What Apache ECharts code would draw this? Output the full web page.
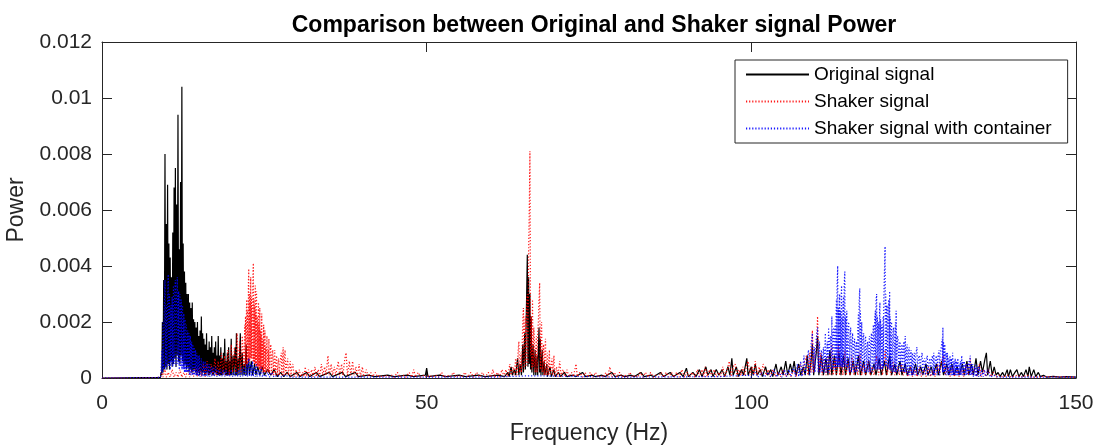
<!DOCTYPE html>
<html>
<head>
<meta charset="utf-8">
<script src="https://cdn.jsdelivr.net/npm/echarts@6/dist/echarts.min.js"></script>
<style>
  html, body { margin: 0; padding: 0; background: #fff; }
  #chart { width: 1100px; height: 447px; }
</style>
</head>
<body>
<div id="chart"></div>
<script>
// ---------------- data ----------------
const chartTitle = 'Comparison between Original and Shaker signal Power';
const xAxisTitle = 'Frequency (Hz)';
const yAxisTitle = 'Power';
const seriesNames = ['Original signal', 'Shaker signal', 'Shaker signal with container'];
const xTicks = [0, 50, 100, 150];
const yTicks = [0, 0.002, 0.004, 0.006, 0.008, 0.01, 0.012];
const yTickLabels = ['0', '0.002', '0.004', '0.006', '0.008', '0.01', '0.012'];

// [frequency (Hz), power]
const originalSignal = [
  [0,0],[9.0,0.00002],[9.1,0.0002],[9.2,0.0001],[9.3,0.0020],[9.4,0.0002],[9.5,0.0035],[9.6,0.0003],[9.7,0.0080],[9.8,0.0004],[9.9,0.0055],
  [10.0,0.0003],[10.1,0.0069],[10.2,0.0005],[10.3,0.0048],[10.4,0.0003],[10.5,0.0043],[10.6,0.0006],[10.7,0.0036],[10.8,0.0004],[10.9,0.0052],
  [11.0,0.0005],[11.1,0.0068],[11.2,0.0007],[11.3,0.0075],[11.4,0.0004],[11.5,0.0062],[11.6,0.0008],[11.7,0.0094],[11.8,0.0006],[11.9,0.0046],
  [12.0,0.0005],[12.1,0.0070],[12.2,0.0008],[12.3,0.0104],[12.4,0.0006],[12.5,0.0048],[12.6,0.0004],[12.7,0.0038],[12.8,0.0005],[12.9,0.0034],
  [13.0,0.0003],[13.1,0.0030],[13.2,0.0004],[13.3,0.0030],[13.4,0.0002],[13.5,0.0027],[13.6,0.0003],[13.7,0.0025],[13.8,0.0002],[13.9,0.0027],
  [14.0,0.0002],[14.1,0.0021],[14.2,0.0003],[14.3,0.0020],[14.4,0.0002],[14.5,0.0018],[14.6,0.0001],[14.7,0.0020],[14.8,0.0002],[14.9,0.0015],
  [15.0,0.0001],[15.1,0.0017],[15.2,0.0002],[15.3,0.0022],[15.4,0.0001],[15.5,0.0016],[15.6,0.0002],[15.7,0.0014],[15.8,0.0001],[15.9,0.0012],
  [16.0,0.0001],[16.1,0.0016],[16.2,0.0002],[16.3,0.0010],[16.4,0.0001],[16.5,0.0013],[16.6,0.0001],[16.7,0.0011],[16.8,0.0002],[16.9,0.0015],
  [17.0,0.0001],[17.1,0.0009],[17.2,0.0001],[17.3,0.0011],[17.4,0.0002],[17.5,0.0013],[17.6,0.0001],[17.7,0.0008],[17.8,0.0001],[17.9,0.0015],
  [18.0,0.0001],[18.1,0.0008],[18.2,0.0001],[18.3,0.0011],[18.4,0.0001],[18.5,0.0007],[18.6,0.0001],[18.7,0.0009],[18.8,0.0002],[18.9,0.0014],
  [19.0,0.0001],[19.1,0.0006],[19.2,0.0001],[19.3,0.0009],[19.4,0.0001],[19.5,0.0011],[19.6,0.0001],[19.7,0.0006],[19.8,0.0001],[19.9,0.0014],
  [20.0,0.0001],[20.2,0.0008],[20.3,0.0001],[20.5,0.0011],[20.6,0.0001],[20.7,0.0016],[20.8,0.0001],[21.0,0.0007],[21.1,0.0001],[21.3,0.0016],
  [21.4,0.0001],[21.6,0.0009],[21.7,0.0001],[21.9,0.0005],[22.0,0.0001],[22.2,0.0012],[22.3,0.0001],[22.6,0.0007],[22.7,0.0001],[23.0,0.0006],
  [23.2,0.0001],[23.5,0.0005],[23.7,0.0001],[24.0,0.0004],[24.3,0.0001],[24.7,0.0004],[25.0,0.0001],[25.5,0.0003],[26.0,0.0001],[26.5,0.0003],
  [27.0,0.00005],[27.5,0.0002],[28.0,0.00005],[28.5,0.0002],[29.0,0.00005],[30.0,0.0002],[30.5,0.00005],[31.5,0.0002],[32.0,0.00005],[33.0,0.0002],
  [33.5,0.00005],[35.0,0.0002],[35.5,0.00005],[37.0,0.0002],[37.5,0.00005],[39.0,0.0002],[39.5,0.00005],[41.0,0.0001],[42.0,0.00005],[44.0,0.0001],
  [45.0,0.00005],[47.0,0.0001],[48.0,0.00005],[49.8,0.0001],[50.0,0.00035],[50.2,0.00005],[52.0,0.0001],[53.0,0.00005],[55.0,0.0001],[56.0,0.00005],
  [58.0,0.0001],[59.0,0.00005],[61.0,0.0001],[62.0,0.00005],[62.5,0.0002],[62.7,0.00005],[63.0,0.0004],[63.2,0.0001],[63.5,0.0003],[63.7,0.0001],
  [64.0,0.0007],[64.2,0.0001],[64.4,0.0005],[64.6,0.0001],[64.8,0.0012],[64.9,0.0002],[65.1,0.0016],[65.2,0.0003],[65.4,0.0030],[65.5,0.0044],
  [65.6,0.0004],[65.7,0.0036],[65.8,0.0005],[65.9,0.0030],[66.0,0.0003],[66.1,0.0022],[66.2,0.0002],[66.4,0.0012],[66.5,0.0001],[66.7,0.0010],
  [66.8,0.0001],[67.0,0.0008],[67.1,0.0001],[67.3,0.0018],[67.4,0.0002],[67.5,0.0014],[67.6,0.0001],[67.8,0.0010],[67.9,0.0001],[68.1,0.0006],
  [68.2,0.0001],[68.5,0.0005],[68.6,0.00005],[69.0,0.0004],[69.2,0.00005],[69.6,0.0003],[69.8,0.00005],[70.3,0.0002],[70.6,0.00005],[71.2,0.0002],
  [71.6,0.00005],[72.5,0.0001],[73.0,0.00005],[74.0,0.0002],[74.5,0.00005],[75.5,0.0001],[76.0,0.00005],[77.0,0.0001],[77.5,0.00005],[78.5,0.0002],
  [79.0,0.00005],[80.0,0.0001],[80.5,0.00005],[81.5,0.0001],[82.0,0.00005],[83.0,0.0002],[83.5,0.00005],[84.5,0.0001],[85.0,0.00005],[86.0,0.0002],
  [86.5,0.00005],[87.5,0.0002],[88.0,0.00005],[89.0,0.0002],[89.5,0.00005],[90.0,0.00035],[90.3,0.00005],[91.0,0.0002],[91.5,0.00005],[92.0,0.0003],
  [92.4,0.00005],[93.0,0.0004],[93.3,0.0001],[93.8,0.0003],[94.1,0.00005],[94.6,0.0003],[95.0,0.0001],[95.5,0.0003],[95.9,0.00005],[96.4,0.0004],
  [96.7,0.0001],[97.0,0.0007],[97.2,0.0001],[97.7,0.0004],[98.0,0.00005],[98.5,0.0003],[98.8,0.0001],[99.3,0.0007],[99.5,0.0001],[100.0,0.0004],
  [100.3,0.0001],[100.6,0.0005],[100.9,0.0001],[101.4,0.0003],[101.7,0.00005],[102.2,0.0004],[102.5,0.0001],[103.0,0.0003],[103.3,0.00005],[103.8,0.0005],
  [104.1,0.0001],[104.6,0.0004],[104.9,0.0001],[105.3,0.0006],[105.6,0.0001],[106.0,0.0005],[106.3,0.0002],[106.6,0.0006],[106.9,0.0001],[107.3,0.0005],
  [107.6,0.0001],[108.0,0.0004],[108.3,0.0001],[108.6,0.0008],[108.9,0.0001],[109.2,0.0006],[109.4,0.0012],[109.6,0.0001],[110.0,0.0009],[110.2,0.0015],
  [110.4,0.0001],[110.8,0.0008],[111.1,0.0001],[111.5,0.0007],[111.8,0.0001],[112.1,0.0010],[112.4,0.0001],[112.8,0.0008],[113.1,0.0001],[113.5,0.0009],
  [113.8,0.0001],[114.2,0.0008],[114.5,0.0001],[114.9,0.0007],[115.2,0.0001],[115.7,0.0006],[116.0,0.0001],[116.5,0.0008],[116.8,0.0001],[117.3,0.0006],
  [117.6,0.0001],[118.1,0.0006],[118.4,0.0001],[118.9,0.0005],[119.2,0.0001],[119.7,0.0007],[120.0,0.0001],[120.5,0.0006],[120.8,0.0001],[121.3,0.0008],
  [121.6,0.0001],[122.1,0.0005],[122.4,0.0001],[122.9,0.0006],[123.2,0.0001],[123.7,0.0005],[124.0,0.0001],[124.5,0.0004],[124.8,0.0001],[125.3,0.0005],
  [125.6,0.0001],[126.1,0.0004],[126.4,0.0001],[126.9,0.0005],[127.2,0.0001],[127.7,0.0004],[128.0,0.0001],[128.5,0.0005],[128.8,0.0001],[129.3,0.0006],
  [129.6,0.0001],[130.1,0.0005],[130.4,0.0001],[130.9,0.0005],[131.2,0.0001],[131.7,0.0004],[132.0,0.0001],[132.5,0.0005],[132.8,0.0001],[133.2,0.0006],
  [133.5,0.0001],[133.9,0.0005],[134.2,0.0001],[134.6,0.0007],[134.9,0.0001],[135.3,0.0006],[135.6,0.0002],[136.0,0.0007],[136.2,0.0009],[136.4,0.0001],
  [136.8,0.0006],[137.1,0.0001],[137.4,0.0004],[137.7,0.0001],[138.0,0.0002],[138.3,0.00005],[138.7,0.0002],[139.0,0.00005],[139.4,0.0003],[139.6,0.00005],
  [139.9,0.0003],[140.2,0.00005],[140.6,0.0002],[140.9,0.0003],[141.2,0.00005],[141.6,0.0002],[141.9,0.00005],[142.3,0.0003],[142.6,0.00005],[142.8,0.0004],
  [143.1,0.00005],[143.5,0.0003],[143.8,0.00005],[144.2,0.0002],[144.5,0.00005],[145.0,0.0001],[145.5,0.00003],[146.5,0.00006],[147.5,0.00003],[148.5,0.00005],
  [150.0,0.00003]
];

const shakerSignal = [
  [0,0],[9.0,0.00002],[9.2,0.0002],[9.4,0.00003],[9.7,0.0003],[9.9,0.00003],[10.2,0.0002],[10.5,0.00003],[10.8,0.0003],[11.1,0.00003],
  [11.4,0.0002],[11.7,0.00003],[12.0,0.0003],[12.3,0.00003],[12.6,0.0002],[12.9,0.00003],[13.2,0.0003],[13.5,0.00003],[13.8,0.0003],[14.1,0.00005],
  [14.4,0.0004],[14.7,0.00005],[15.0,0.0004],[15.3,0.00005],[15.6,0.0005],[15.9,0.00005],[16.2,0.0006],[16.5,0.0001],[16.8,0.0005],[17.1,0.0001],
  [17.4,0.0007],[17.6,0.0001],[17.9,0.0006],[18.1,0.0001],[18.4,0.0009],[18.6,0.0001],[18.9,0.0008],[19.1,0.0001],[19.4,0.0010],[19.6,0.0001],
  [19.9,0.0012],[20.1,0.0002],[20.4,0.0011],[20.6,0.0002],[20.8,0.0016],[21.0,0.0002],[21.2,0.0013],[21.4,0.0002],[21.6,0.0015],[21.8,0.0003],
  [22.0,0.0019],[22.05,0.0004],[22.1,0.0022],[22.2,0.0004],[22.25,0.0025],[22.3,0.0028],[22.35,0.0005],[22.4,0.0024],[22.5,0.0005],[22.55,0.0034],
  [22.6,0.0039],[22.65,0.0006],[22.7,0.0030],[22.75,0.0006],[22.8,0.0027],[22.85,0.0007],[22.9,0.0036],[22.95,0.0007],[23.0,0.0029],[23.05,0.0007],
  [23.1,0.0026],[23.15,0.0006],[23.2,0.0030],[23.25,0.0035],[23.3,0.0041],[23.35,0.0006],[23.4,0.0028],[23.45,0.0005],[23.5,0.0026],[23.55,0.0005],
  [23.6,0.0033],[23.65,0.0005],[23.7,0.0024],[23.75,0.0004],[23.8,0.0031],[23.85,0.0004],[23.9,0.0022],[23.95,0.0004],[24.0,0.0020],[24.05,0.0004],
  [24.1,0.0027],[24.15,0.0004],[24.2,0.0019],[24.25,0.0003],[24.3,0.0025],[24.35,0.0003],[24.4,0.0017],[24.45,0.0003],[24.5,0.0015],[24.55,0.0003],
  [24.6,0.0023],[24.65,0.0003],[24.7,0.0014],[24.75,0.0002],[24.8,0.0013],[24.85,0.0002],[24.9,0.0019],[24.95,0.0002],[25.0,0.0012],[25.05,0.0002],
  [25.1,0.0017],[25.15,0.0002],[25.2,0.0011],[25.3,0.0002],[25.4,0.0015],[25.5,0.0002],[25.6,0.0010],[25.65,0.0002],[25.7,0.0014],[25.8,0.0002],
  [25.9,0.0009],[26.0,0.0012],[26.1,0.0001],[26.2,0.0008],[26.3,0.0010],[26.4,0.0001],[26.5,0.0007],[26.6,0.0010],[26.7,0.0001],[26.8,0.0006],
  [26.9,0.0008],[27.0,0.0001],[27.1,0.0005],[27.2,0.0007],[27.3,0.0001],[27.45,0.0006],[27.6,0.0009],[27.7,0.0001],[27.8,0.0007],[27.9,0.0011],
  [28.0,0.0001],[28.1,0.0008],[28.2,0.0010],[28.3,0.0001],[28.45,0.0005],[28.6,0.0007],[28.7,0.0001],[28.85,0.0004],[29.0,0.0006],[29.1,0.00005],
  [29.25,0.0004],[29.4,0.0005],[29.6,0.00005],[29.9,0.0003],[30.1,0.00005],[30.4,0.0003],[30.6,0.00005],[30.9,0.0002],[31.1,0.00005],[31.3,0.0004],
  [31.5,0.00005],[31.8,0.0003],[32.0,0.00005],[32.3,0.0003],[32.5,0.00005],[32.8,0.0004],[33.0,0.00005],[33.3,0.0003],[33.5,0.00005],[33.8,0.0005],
  [34.0,0.0001],[34.3,0.0004],[34.5,0.0001],[34.8,0.0008],[35.0,0.0001],[35.3,0.0005],[35.5,0.0001],[35.8,0.0004],[36.0,0.0001],[36.4,0.0006],
  [36.6,0.0001],[36.9,0.0005],[37.1,0.0001],[37.4,0.0007],[37.6,0.0009],[37.8,0.0001],[38.1,0.0006],[38.3,0.0001],[38.6,0.0006],[38.8,0.0001],
  [39.1,0.0004],[39.3,0.00005],[39.6,0.0005],[39.8,0.00005],[40.1,0.0004],[40.3,0.00005],[40.7,0.0003],[41.0,0.00005],[41.4,0.0002],[41.7,0.00005],
  [42.1,0.0002],[42.4,0.00005],[42.8,0.0001],[43.2,0.00003],[43.7,0.0001],[44.1,0.00003],[44.6,0.0001],[45.0,0.00003],[45.5,0.0002],[45.9,0.00003],
  [46.4,0.0001],[46.8,0.00003],[47.3,0.0002],[47.7,0.00003],[48.0,0.0003],[48.3,0.00003],[48.7,0.0002],[49.1,0.00003],[49.6,0.0001],[50.0,0.00003],
  [50.5,0.0001],[50.9,0.00003],[51.4,0.0001],[51.8,0.00003],[52.3,0.0002],[52.7,0.00003],[53.2,0.0001],[53.6,0.00003],[54.1,0.0002],[54.5,0.00003],
  [55.0,0.0001],[55.4,0.00003],[55.9,0.0002],[56.3,0.00003],[56.8,0.0002],[57.2,0.00003],[57.7,0.0002],[58.1,0.00003],[58.6,0.0002],[59.0,0.00003],
  [59.5,0.0002],[59.9,0.00003],[60.2,0.0003],[60.5,0.00003],[60.9,0.0002],[61.2,0.00003],[61.6,0.0003],[61.9,0.00005],[62.2,0.0003],[62.5,0.00005],
  [62.8,0.0005],[63.0,0.0001],[63.3,0.0004],[63.5,0.0001],[63.7,0.0007],[63.9,0.0001],[64.1,0.0010],[64.2,0.0013],[64.3,0.0002],[64.5,0.0009],
  [64.6,0.0002],[64.8,0.0020],[64.9,0.0025],[65.0,0.0003],[65.1,0.0018],[65.2,0.0022],[65.3,0.0004],[65.4,0.0027],[65.5,0.0030],[65.6,0.0005],
  [65.7,0.0045],[65.8,0.0060],[65.85,0.0070],[65.9,0.0081],[65.95,0.0050],[66.0,0.0008],[66.1,0.0022],[66.2,0.0003],[66.3,0.0028],[66.4,0.0004],
  [66.5,0.0018],[66.6,0.0012],[66.7,0.0002],[66.8,0.0011],[66.9,0.0015],[67.0,0.0002],[67.1,0.0016],[67.2,0.0020],[67.3,0.0028],[67.4,0.0034],
  [67.5,0.0003],[67.6,0.0016],[67.7,0.0020],[67.8,0.0002],[67.9,0.0010],[68.0,0.0012],[68.1,0.0001],[68.2,0.0010],[68.3,0.0014],[68.4,0.0001],
  [68.6,0.0009],[68.7,0.0001],[68.9,0.0010],[69.0,0.0001],[69.3,0.0007],[69.4,0.0001],[69.6,0.0008],[69.7,0.00005],[70.0,0.0004],[70.2,0.00005],
  [70.5,0.0006],[70.7,0.00005],[71.0,0.0003],[71.3,0.00005],[71.6,0.0003],[71.9,0.00005],[72.3,0.0002],[72.6,0.00005],[73.0,0.0005],[73.2,0.00005],
  [73.6,0.0002],[74.0,0.00003],[74.4,0.0002],[74.8,0.00003],[75.2,0.0002],[75.6,0.00003],[76.0,0.0002],[76.4,0.00003],[76.8,0.0001],[77.2,0.00003],
  [77.6,0.0002],[77.9,0.00003],[78.2,0.0004],[78.5,0.00003],[78.9,0.0002],[79.3,0.00003],[79.7,0.0002],[80.1,0.00003],[80.5,0.0001],[80.9,0.00003],
  [81.3,0.0002],[81.7,0.00003],[82.1,0.0001],[82.5,0.00003],[82.9,0.0002],[83.3,0.00003],[83.7,0.0002],[84.1,0.00003],[84.5,0.0002],[84.9,0.00003],
  [85.3,0.0001],[85.7,0.00003],[86.1,0.0002],[86.5,0.00003],[86.9,0.0002],[87.3,0.00003],[87.7,0.0002],[88.1,0.00003],[88.5,0.0002],[88.9,0.00003],
  [89.3,0.0003],[89.7,0.00003],[90.1,0.0002],[90.5,0.00003],[90.9,0.0002],[91.3,0.00003],[91.7,0.0003],[92.0,0.00005],[92.4,0.0003],[92.7,0.00005],
  [92.9,0.0004],[93.2,0.00005],[93.6,0.0003],[93.9,0.00005],[94.3,0.0003],[94.6,0.00005],[95.0,0.0002],[95.3,0.00005],[95.6,0.0004],[95.9,0.00005],
  [96.3,0.0003],[96.6,0.0006],[96.9,0.00005],[97.2,0.0004],[97.5,0.0005],[97.8,0.00005],[98.1,0.0003],[98.4,0.0001],[98.7,0.0004],[99.0,0.0001],
  [99.3,0.0005],[99.5,0.0006],[99.8,0.0001],[100.1,0.0004],[100.4,0.0001],[100.6,0.0006],[100.9,0.0001],[101.2,0.0004],[101.5,0.0001],[101.8,0.0005],
  [102.0,0.0005],[102.3,0.0001],[102.6,0.0003],[102.9,0.00005],[103.3,0.0003],[103.7,0.00005],[104.1,0.0002],[104.5,0.00005],[104.9,0.0003],[105.3,0.00005],
  [105.7,0.0002],[106.1,0.00005],[106.5,0.0003],[106.9,0.00005],[107.3,0.0004],[107.6,0.0005],[107.9,0.0001],[108.2,0.0006],[108.5,0.0008],[108.7,0.0001],
  [109.0,0.0009],[109.2,0.0002],[109.4,0.0017],[109.6,0.0002],[109.8,0.0008],[110.0,0.0010],[110.2,0.0022],[110.4,0.0002],[110.7,0.0009],[110.9,0.0001],
  [111.2,0.0007],[111.5,0.0001],[111.8,0.0008],[112.1,0.0001],[112.4,0.0012],[112.6,0.0001],[112.9,0.0007],[113.1,0.0001],[113.4,0.0012],[113.6,0.0001],
  [113.9,0.0007],[114.1,0.0001],[114.4,0.0010],[114.6,0.0001],[114.9,0.0006],[115.2,0.0001],[115.5,0.0008],[115.8,0.0001],[116.1,0.0005],[116.4,0.0001],
  [116.7,0.0009],[117.0,0.0001],[117.3,0.0005],[117.6,0.0001],[118.0,0.0006],[118.3,0.0001],[118.6,0.0004],[118.9,0.0001],[119.3,0.0008],[119.6,0.0001],
  [119.9,0.0005],[120.2,0.0001],[120.6,0.0010],[120.9,0.0001],[121.2,0.0005],[121.5,0.0001],[121.8,0.0006],[122.1,0.0001],[122.5,0.0004],[122.8,0.0001],
  [123.1,0.0005],[123.4,0.0001],[123.8,0.0003],[124.1,0.00005],[124.5,0.0004],[124.8,0.00005],[125.2,0.0003],[125.5,0.00005],[125.9,0.0004],[126.2,0.00005],
  [126.6,0.0003],[126.9,0.00005],[127.3,0.0004],[127.6,0.00005],[128.0,0.0003],[128.3,0.00005],[128.7,0.0005],[129.0,0.0001],[129.3,0.0006],[129.6,0.0008],
  [129.9,0.0001],[130.3,0.0004],[130.6,0.00005],[131.0,0.0004],[131.3,0.00005],[131.7,0.0003],[132.0,0.00005],[132.4,0.0003],[132.7,0.00005],[133.1,0.0005],
  [133.4,0.0001],[133.7,0.0007],[134.0,0.0001],[134.4,0.0004],[134.7,0.00005],[135.1,0.0005],[135.4,0.00005],[135.8,0.0003],[136.1,0.00005],[136.5,0.0003],
  [136.9,0.00005],[137.3,0.0002],[137.7,0.00003],[138.2,0.0001],[138.7,0.00003],[139.5,0.0001],[140.0,0.00003],[141.0,0.0001],[141.5,0.00003],[142.5,0.0001],
  [143.0,0.00003],[145.0,0.00005],[150.0,0.00003]
];

const shakerWithContainer = [
  [0,0],[9.0,0.00002],[9.1,0.0002],[9.2,0.0010],[9.3,0.0002],[9.4,0.0020],[9.5,0.0003],[9.6,0.0025],[9.7,0.0035],[9.8,0.0003],
  [9.9,0.0026],[10.0,0.0004],[10.1,0.0028],[10.2,0.0037],[10.3,0.0004],[10.4,0.0030],[10.5,0.0003],[10.6,0.0026],[10.7,0.0005],[10.8,0.0029],
  [10.9,0.0004],[11.0,0.0033],[11.1,0.0005],[11.2,0.0031],[11.3,0.0035],[11.4,0.0004],[11.5,0.0030],[11.6,0.0036],[11.7,0.0005],[11.8,0.0031],
  [11.9,0.0003],[12.0,0.0030],[12.1,0.0004],[12.2,0.0028],[12.3,0.0003],[12.4,0.0026],[12.5,0.0003],[12.6,0.0023],[12.7,0.0002],[12.8,0.0021],
  [12.9,0.0002],[13.0,0.0019],[13.1,0.0002],[13.2,0.0017],[13.3,0.0002],[13.4,0.0016],[13.5,0.0001],[13.6,0.0015],[13.7,0.0001],[13.8,0.0013],
  [13.9,0.0001],[14.0,0.0012],[14.1,0.0001],[14.2,0.0011],[14.3,0.0001],[14.4,0.0010],[14.5,0.0001],[14.6,0.0009],[14.7,0.0001],[14.8,0.0008],
  [14.9,0.00005],[15.0,0.0008],[15.1,0.00005],[15.3,0.0007],[15.4,0.00005],[15.6,0.0006],[15.7,0.00005],[15.9,0.0006],[16.0,0.00005],[16.2,0.0005],
  [16.3,0.00005],[16.5,0.0005],[16.6,0.00005],[16.8,0.0004],[16.9,0.00005],[17.1,0.0004],[17.3,0.00005],[17.5,0.0004],[17.7,0.00005],[17.9,0.0003],
  [18.1,0.00005],[18.3,0.0003],[18.5,0.00005],[18.7,0.0003],[18.9,0.00005],[19.1,0.0003],[19.3,0.00005],[19.5,0.0002],[19.7,0.00005],[19.9,0.0003],
  [20.1,0.00005],[20.3,0.0002],[20.5,0.00005],[20.7,0.0003],[20.9,0.00005],[21.1,0.0003],[21.3,0.00005],[21.5,0.0004],[21.7,0.00005],[21.9,0.0004],
  [22.1,0.00005],[22.3,0.0005],[22.4,0.00005],[22.6,0.0007],[22.7,0.00005],[22.9,0.0005],[23.0,0.00005],[23.2,0.0006],[23.3,0.00005],[23.5,0.0004],
  [23.6,0.00005],[23.8,0.0005],[23.9,0.00005],[24.1,0.0003],[24.3,0.00005],[24.5,0.0004],[24.7,0.00003],[24.9,0.0002],[25.2,0.00003],[25.5,0.0002],
  [25.8,0.00003],[26.1,0.0002],[26.5,0.00003],[27.0,0.0001],[27.5,0.00003],[28.2,0.0001],[29.0,0.00003],[40.0,0.00003],[60.0,0.00003],[65.9,0.00008],
  [66.2,0.00003],[80.0,0.00003],[95.0,0.00005],[99.5,0.0001],[100.0,0.00003],[100.6,0.0002],[101.0,0.00003],[101.6,0.0002],[102.0,0.00003],[102.6,0.0002],
  [103.0,0.00003],[103.5,0.0003],[103.9,0.00003],[104.3,0.0002],[104.7,0.00003],[105.1,0.0003],[105.4,0.00005],[105.8,0.0003],[106.1,0.00005],[106.5,0.0004],
  [106.8,0.00005],[107.1,0.0005],[107.3,0.00005],[107.6,0.0006],[107.8,0.00005],[108.1,0.0008],[108.3,0.0001],[108.6,0.0007],[108.8,0.0010],[109.0,0.0001],
  [109.2,0.0012],[109.4,0.0016],[109.5,0.0002],[109.7,0.0011],[109.8,0.0002],[110.0,0.0014],[110.2,0.0018],[110.3,0.0002],[110.5,0.0013],[110.6,0.0002],
  [110.8,0.0010],[110.9,0.0002],[111.1,0.0011],[111.2,0.0002],[111.4,0.0016],[111.5,0.0002],[111.7,0.0013],[111.8,0.0002],[111.9,0.0018],[112.0,0.0002],
  [112.1,0.0014],[112.2,0.0015],[112.3,0.0003],[112.4,0.0022],[112.5,0.0003],[112.6,0.0016],[112.7,0.0018],[112.8,0.0003],[112.9,0.0019],[113.0,0.0003],
  [113.05,0.0022],[113.1,0.0028],[113.15,0.0004],[113.2,0.0033],[113.25,0.0036],[113.3,0.0040],[113.35,0.0004],[113.4,0.0025],[113.5,0.0004],[113.55,0.0027],
  [113.6,0.0030],[113.65,0.0004],[113.7,0.0024],[113.8,0.0004],[113.85,0.0030],[113.9,0.0033],[113.95,0.0004],[114.0,0.0022],[114.05,0.0003],[114.1,0.0026],
  [114.2,0.0029],[114.25,0.0004],[114.3,0.0033],[114.35,0.0036],[114.4,0.0038],[114.45,0.0004],[114.5,0.0022],[114.6,0.0004],[114.65,0.0020],[114.7,0.0024],
  [114.8,0.0003],[114.9,0.0018],[115.0,0.0020],[115.1,0.0002],[115.2,0.0015],[115.3,0.0018],[115.4,0.0002],[115.5,0.0013],[115.6,0.0016],[115.7,0.0002],
  [115.8,0.0012],[115.9,0.0014],[116.0,0.0002],[116.1,0.0011],[116.2,0.0013],[116.3,0.0002],[116.4,0.0018],[116.5,0.0023],[116.55,0.0003],[116.6,0.0027],
  [116.65,0.0030],[116.7,0.0032],[116.75,0.0003],[116.8,0.0024],[116.9,0.0003],[117.0,0.0020],[117.1,0.0002],[117.2,0.0014],[117.3,0.0016],[117.4,0.0002],
  [117.5,0.0012],[117.6,0.0015],[117.7,0.0002],[117.8,0.0011],[117.9,0.0013],[118.0,0.0002],[118.1,0.0012],[118.2,0.0015],[118.3,0.0002],[118.4,0.0013],
  [118.5,0.0016],[118.6,0.0002],[118.7,0.0015],[118.8,0.0019],[118.9,0.0003],[119.0,0.0021],[119.1,0.0024],[119.15,0.0003],[119.2,0.0027],[119.25,0.0029],
  [119.3,0.0030],[119.35,0.0003],[119.4,0.0022],[119.5,0.0003],[119.6,0.0020],[119.7,0.0003],[119.75,0.0024],[119.8,0.0027],[119.85,0.0003],[119.9,0.0021],
  [120.0,0.0003],[120.1,0.0019],[120.2,0.0003],[120.3,0.0022],[120.35,0.0004],[120.4,0.0028],[120.45,0.0033],[120.5,0.0038],[120.55,0.0043],[120.6,0.0047],
  [120.65,0.0004],[120.7,0.0030],[120.8,0.0004],[120.85,0.0024],[120.9,0.0026],[121.0,0.0003],[121.1,0.0024],[121.2,0.0028],[121.25,0.0003],[121.3,0.0031],
  [121.35,0.0003],[121.4,0.0022],[121.5,0.0003],[121.6,0.0020],[121.7,0.0002],[121.8,0.0016],[121.9,0.0018],[122.0,0.0002],[122.1,0.0016],[122.2,0.0020],
  [122.25,0.0002],[122.3,0.0024],[122.4,0.0002],[122.5,0.0015],[122.6,0.0014],[122.7,0.0002],[122.8,0.0012],[122.9,0.0013],[123.0,0.0002],[123.1,0.0010],
  [123.2,0.0012],[123.3,0.0002],[123.4,0.0011],[123.5,0.0013],[123.6,0.0002],[123.7,0.0015],[123.8,0.0002],[123.9,0.0010],[124.0,0.0012],[124.1,0.0001],
  [124.2,0.0009],[124.3,0.0011],[124.4,0.0001],[124.5,0.0008],[124.6,0.0010],[124.7,0.0001],[124.8,0.0009],[124.9,0.0001],[125.0,0.0007],[125.1,0.0009],
  [125.2,0.0001],[125.3,0.0008],[125.5,0.0011],[125.6,0.0001],[125.7,0.0007],[125.9,0.0008],[126.0,0.0001],[126.1,0.0006],[126.3,0.0009],[126.4,0.0001],
  [126.5,0.0006],[126.7,0.0007],[126.8,0.0001],[126.9,0.0006],[127.1,0.0008],[127.2,0.0001],[127.3,0.0005],[127.5,0.0007],[127.6,0.0001],[127.7,0.0006],
  [127.9,0.0008],[128.0,0.0001],[128.1,0.0009],[128.2,0.0001],[128.3,0.0006],[128.5,0.0008],[128.6,0.0001],[128.7,0.0007],[128.9,0.0010],[129.0,0.0001],
  [129.1,0.0009],[129.3,0.0012],[129.4,0.0014],[129.45,0.0002],[129.5,0.0018],[129.55,0.0002],[129.6,0.0013],[129.7,0.0002],[129.8,0.0012],[129.9,0.0001],
  [130.0,0.0009],[130.1,0.0001],[130.2,0.0009],[130.3,0.0001],[130.4,0.0007],[130.5,0.0001],[130.6,0.0008],[130.7,0.0001],[130.8,0.0007],[130.9,0.0001],
  [131.0,0.0009],[131.1,0.0001],[131.2,0.0006],[131.3,0.0001],[131.4,0.0007],[131.5,0.0001],[131.6,0.0006],[131.7,0.0001],[131.8,0.0007],[131.9,0.0001],
  [132.0,0.0005],[132.1,0.0001],[132.2,0.0006],[132.3,0.0001],[132.4,0.0008],[132.5,0.0001],[132.6,0.0006],[132.7,0.0001],[132.8,0.0006],[132.9,0.0001],
  [133.0,0.0005],[133.1,0.0001],[133.2,0.0005],[133.3,0.0001],[133.5,0.0006],[133.6,0.0001],[133.7,0.0008],[133.8,0.0001],[133.9,0.0005],[134.0,0.0001],
  [134.1,0.0005],[134.2,0.00005],[134.4,0.0004],[134.5,0.00005],[134.6,0.0005],[134.7,0.00005],[134.9,0.0004],[135.0,0.00005],[135.1,0.0004],[135.3,0.00005],
  [135.5,0.0003],[135.7,0.00005],[135.9,0.0003],[136.1,0.00005],[136.4,0.0003],[136.8,0.00003],[137.3,0.0001],[138.0,0.00003],[150.0,0.00003]
];

// ---------------- chart ----------------
const FONT = "'Liberation Sans', Arial, Helvetica, sans-serif";
const AXIS_COLOR = '#262626';
const RED = 'rgba(255,0,0,0.9)';
const BLUE = 'rgba(0,0,255,0.9)';

const chart = echarts.init(document.getElementById('chart'), null, { renderer: 'canvas' });

function yLabel(v) {
  const i = yTicks.findIndex(t => Math.abs(t - v) < 1e-9);
  return i >= 0 ? yTickLabels[i] : '';
}

const baseX = {
  type: 'value', min: xTicks[0], max: xTicks[xTicks.length - 1], interval: 50,
  splitLine: { show: false },
  axisLine: { show: true, onZero: false, lineStyle: { color: AXIS_COLOR, width: 1 } },
  axisTick: { show: true, inside: true, length: 10, lineStyle: { color: AXIS_COLOR, width: 1 } }
};
const baseY = {
  type: 'value', min: yTicks[0], max: yTicks[yTicks.length - 1], interval: 0.002,
  splitLine: { show: false },
  axisLine: { show: true, onZero: false, lineStyle: { color: AXIS_COLOR, width: 1 } },
  axisTick: { show: true, inside: true, length: 10, lineStyle: { color: AXIS_COLOR, width: 1 } }
};

const option = {
  animation: false,
  backgroundColor: '#ffffff',
  title: {
    text: chartTitle,
    left: 589, top: 9, textAlign: 'center',
    textStyle: { fontFamily: FONT, fontSize: 23, fontWeight: 'bold', color: '#000' }
  },
  grid: { left: 102, right: 24, top: 42, bottom: 69, containLabel: false, outerBoundsMode: 'none' },
  legend: {
    orient: 'vertical',
    left: 735, top: 60,
    padding: [5, 16, 5, 10],
    itemGap: 8,
    itemWidth: 63, itemHeight: 14,
    backgroundColor: '#ffffff',
    borderColor: AXIS_COLOR, borderWidth: 1,
    itemStyle: { opacity: 0 },
    textStyle: { fontFamily: FONT, fontSize: 19, color: '#000', lineHeight: 19 },
    data: seriesNames
  },
  xAxis: [
    Object.assign({}, baseX, {
      position: 'bottom',
      name: xAxisTitle, nameLocation: 'middle', nameGap: 44,
      nameTextStyle: { fontFamily: FONT, fontSize: 23, color: AXIS_COLOR },
      axisLabel: { show: true, margin: 15, fontFamily: FONT, fontSize: 21, color: AXIS_COLOR,
                   formatter: v => xTicks.includes(v) ? String(v) : '' }
    }),
    Object.assign({}, baseX, { position: 'top', axisLabel: { show: false } })
  ],
  yAxis: [
    Object.assign({}, baseY, {
      position: 'left',
      name: yAxisTitle, nameLocation: 'middle', nameGap: 72, nameRotate: 90,
      nameTextStyle: { fontFamily: FONT, fontSize: 23, color: AXIS_COLOR },
      axisLabel: { show: true, margin: 10, fontFamily: FONT, fontSize: 21, color: AXIS_COLOR, formatter: yLabel }
    }),
    Object.assign({}, baseY, { position: 'right', axisLabel: { show: false } })
  ],
  series: [
    {
      name: seriesNames[0], type: 'line', data: originalSignal,
      xAxisIndex: 0, yAxisIndex: 0,
      symbol: 'none', showSymbol: false, clip: true,
      lineStyle: { color: '#000000', width: 1.2, type: 'solid' },
      itemStyle: { color: '#000000' }, z: 2
    },
    {
      name: seriesNames[1], type: 'line', data: shakerSignal,
      xAxisIndex: 0, yAxisIndex: 0,
      symbol: 'none', showSymbol: false, clip: true,
      lineStyle: { color: RED, width: 1.2, type: [1.2, 1.9] },
      itemStyle: { color: RED }, z: 3
    },
    {
      name: seriesNames[2], type: 'line', data: shakerWithContainer,
      xAxisIndex: 0, yAxisIndex: 0,
      symbol: 'none', showSymbol: false, clip: true,
      lineStyle: { color: BLUE, width: 1.2, type: [1.2, 1.9] },
      itemStyle: { color: BLUE }, z: 4
    }
  ]
};
chart.setOption(option);
</script>
</body>
</html>
